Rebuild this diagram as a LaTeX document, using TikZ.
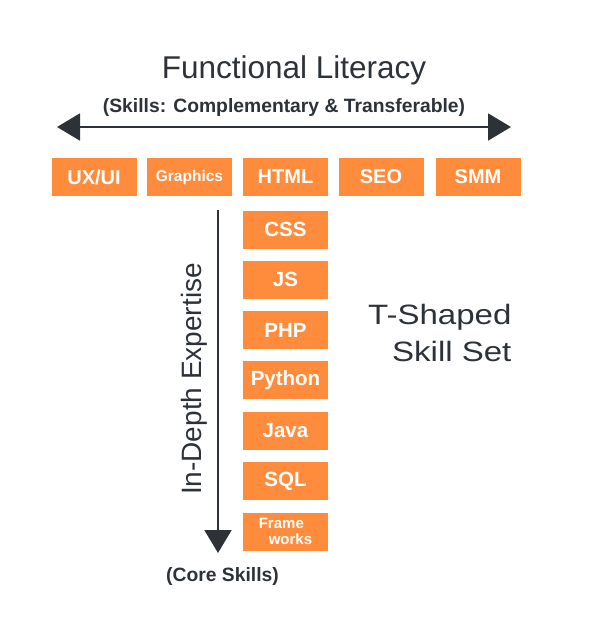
\documentclass[tikz,border=0pt]{standalone}
\usepackage{fontspec}
\setmainfont{Liberation Sans}
\newfontfamily\widefont[FakeStretch=1.18]{Liberation Sans}
\usetikzlibrary{arrows.meta}
\definecolor{skillorange}{RGB}{255,140,60}
\definecolor{inkgray}{RGB}{45,50,56}
\tikzset{
	skill/.style={fill=skillorange, text=white, minimum width=85pt, minimum height=38pt, inner sep=0pt, font=\bfseries\fontsize{20}{24}\selectfont},
	bigarrow/.style={draw=inkgray, line width=2pt, -{Triangle[length=23pt,width=27pt]}},
	inktext/.style={text=inkgray}
}

\begin{document}
\begin{tikzpicture}[x=1pt,y=-1pt]
	\useasboundingbox (0,0) rectangle (595,623);
	
	\node [inktext, font=\fontsize{31.5}{36}\selectfont] (title) at (294,70) {Functional Literacy};
	\node [inktext, font=\bfseries\fontsize{19.3}{22}\selectfont] (subtitle) at (284,108) {(Skills: Complementary \& Transferable)};
	
	\coordinate (wl) at (57,127);
	\coordinate (wr) at (511,127);
	\draw [bigarrow, {Triangle[length=23pt,width=27pt]}-{Triangle[length=23pt,width=27pt]}] (wl) -- (wr);
	
	\node [skill] (uxui) at (94,177) {UX/UI};
	\node [skill, font=\bfseries\fontsize{15.5}{18}\selectfont] (graphics) at (189.5,177) {Graphics};
	\node [skill] (html) at (285.5,177) {HTML};
	\node [skill] (seo) at (381,177) {SEO};
	\node [skill] (smm) at (478,177) {SMM};
	
	\foreach \name/\txt [count=\i] in {css/CSS,js/JS,php/PHP,python/Python,java/Java,sql/SQL}
		\node [skill, font=\bfseries\fontsize{20.5}{24}\selectfont] (\name) at (285.5,{229.5+50.3*(\i-1)}) {\txt};
	\node [skill, align=left, font=\bfseries\fontsize{15}{16}\selectfont] (frameworks) at (285.5,531.5) {Frame\\\hspace*{10pt}works};
	
	\coordinate (dt) at (218,210);
	\coordinate (db) at (218,553);
	\draw [bigarrow] (dt) -- (db);
	\node [inktext, rotate=90, font=\fontsize{28}{32}\selectfont] (depth) at (194,379) {In-Depth Expertise};
	\node [inktext, font=\bfseries\fontsize{19.3}{22}\selectfont] (core) at (222.5,577) {(Core Skills)};
	
	\node [inktext, anchor=east, align=right, font=\widefont\fontsize{28}{37}\selectfont] (tshaped) at (515,333) {T-Shaped\\Skill Set};
\end{tikzpicture}
\end{document}
